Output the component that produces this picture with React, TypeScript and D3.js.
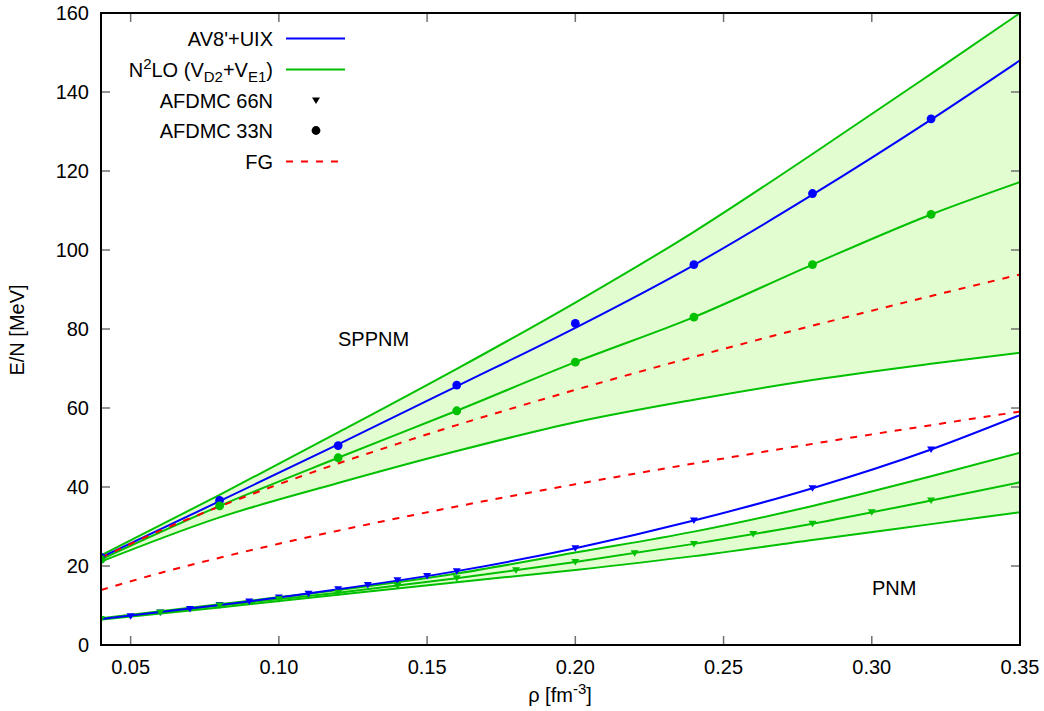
import React from 'react'
import * as d3 from 'd3'

// density grid for the fitted curves [fm^-3]
const curveRho = [0.04, 0.08, 0.12, 0.16, 0.2, 0.24, 0.28, 0.32, 0.35]

// spin-polarized pure neutron matter (SPPNM)
const sppnmAv8 = [22.2, 36.4, 50.8, 65.5, 80.3, 96.2, 114.0, 133.0, 148.0]
const sppnmN2loMid = [21.7, 35.2, 47.4, 59.3, 71.6, 83.0, 96.3, 109.0, 117.2]
const sppnmN2loHigh = [22.7, 38.0, 53.8, 69.9, 86.7, 104.6, 124.3, 144.6, 160.0]
const sppnmN2loLow = [21.1, 32.3, 41.0, 49.1, 56.4, 62.1, 67.1, 71.2, 74.0]

// pure neutron matter (PNM)
const pnmAv8 = [6.6, 10.1, 14.1, 18.7, 24.5, 31.5, 39.7, 49.5, 58.2]
const pnmN2loMid = [6.6, 10.0, 13.2, 16.9, 21.0, 25.6, 30.7, 36.6, 41.2]
const pnmN2loHigh = [6.8, 10.3, 13.9, 18.1, 23.4, 28.7, 35.2, 42.7, 48.7]
const pnmN2loLow = [6.4, 9.5, 12.7, 15.9, 19.0, 22.5, 26.6, 30.6, 33.6]

// free gas
const fgRho = [0.04, 0.06, 0.08, 0.1, 0.12, 0.14, 0.16, 0.18, 0.2, 0.22, 0.24, 0.26, 0.28, 0.3, 0.32, 0.35]
const fgSppnm = [22.1, 28.95, 35.07, 40.69, 45.96, 50.92, 55.67, 60.21, 64.59, 68.83, 72.94, 76.94, 80.83, 84.64, 88.35, 93.8]
const fgPnm = [13.92, 18.24, 22.09, 25.63, 28.95, 32.08, 35.07, 37.93, 40.69, 43.36, 45.95, 48.47, 50.92, 53.32, 55.66, 59.09]

// AFDMC 33N (circles, SPPNM)
const afdmc33Rho = [0.04, 0.08, 0.12, 0.16, 0.2, 0.24, 0.28, 0.32]
const afdmc33Av8 = [22.2, 36.6, 50.5, 65.8, 81.4, 96.3, 114.3, 133.2]
const afdmc33N2lo = [21.7, 35.2, 47.4, 59.3, 71.6, 83.0, 96.3, 109.0]

// AFDMC 66N (triangles, PNM)
const afdmc66Av8Rho = [0.05, 0.06, 0.07, 0.08, 0.09, 0.1, 0.11, 0.12, 0.13, 0.14, 0.15, 0.16, 0.2, 0.24, 0.28, 0.32]
const afdmc66Av8 = [7.3, 8.2, 9.1, 10.1, 11.0, 12.0, 13.0, 14.1, 15.2, 16.4, 17.5, 18.7, 24.5, 31.5, 39.7, 49.5]
const afdmc66N2loRho = [0.04, 0.06, 0.08, 0.1, 0.12, 0.14, 0.16, 0.18, 0.2, 0.22, 0.24, 0.26, 0.28, 0.3, 0.32]
const afdmc66N2lo = [6.6, 8.2, 10.0, 11.6, 13.2, 15.0, 16.9, 18.9, 21.0, 23.2, 25.6, 28.1, 30.7, 33.6, 36.6]

const xTicks = [0.05, 0.1, 0.15, 0.2, 0.25, 0.3, 0.35]
const yTicks = [0, 20, 40, 60, 80, 100, 120, 140, 160]

const BLUE = '#0000ff'
const GREEN = '#00c000'
const RED = '#ff0000'
const BAND = '#e2fdd0'
const FONT = '"Liberation Sans", Arial, sans-serif'

const width = 1044
const height = 711
const margin = { top: 13, right: 24, bottom: 66, left: 101 }

const App = () => {
  const x = d3.scaleLinear().domain([0.04, 0.35]).range([margin.left, width - margin.right])
  const y = d3.scaleLinear().domain([0, 160]).range([height - margin.bottom, margin.top])

  const zip = (xs: number[], ys: number[]) => xs.map((v, i) => [v, ys[i]] as [number, number])

  const line = d3
    .line<[number, number]>()
    .x((d) => x(d[0]))
    .y((d) => y(d[1]))
    .curve(d3.curveMonotoneX)

  const band = (low: number[], high: number[]) =>
    d3
      .area<number>()
      .x((d) => x(d))
      .y0((d, i) => y(low[i]))
      .y1((d, i) => y(high[i]))
      .curve(d3.curveMonotoneX)(curveRho)

  const tri = 'M-4,-3L4,-3L0,3.5Z'
  const x0 = margin.left
  const x1 = width - margin.right
  const y0 = height - margin.bottom
  const y1 = margin.top

  const legendRows = [38.5, 69.5, 100.5, 130.5, 161.5]
  const lx = 273

  return (
    <svg
      width={width}
      height={height}
      style={{ position: 'absolute', left: 0, top: 0, background: '#fff' }}
      fontFamily={FONT}
    >
      <defs>
        <clipPath id="plot">
          <rect x={x0} y={y1} width={x1 - x0} height={y0 - y1} />
        </clipPath>
      </defs>

      <g clipPath="url(#plot)">
        <path d={band(sppnmN2loLow, sppnmN2loHigh) || ''} fill={BAND} />
        <path d={band(pnmN2loLow, pnmN2loHigh) || ''} fill={BAND} />

        {[sppnmN2loHigh, sppnmN2loMid, sppnmN2loLow, pnmN2loHigh, pnmN2loMid, pnmN2loLow].map((s, i) => (
          <path key={'g' + i} d={line(zip(curveRho, s)) || ''} fill="none" stroke={GREEN} strokeWidth={2} />
        ))}
        {[sppnmAv8, pnmAv8].map((s, i) => (
          <path key={'b' + i} d={line(zip(curveRho, s)) || ''} fill="none" stroke={BLUE} strokeWidth={2} />
        ))}
        {[fgSppnm, fgPnm].map((s, i) => (
          <path
            key={'r' + i}
            d={line(zip(fgRho, s)) || ''}
            fill="none"
            stroke={RED}
            strokeWidth={2}
            strokeDasharray="7,8"
          />
        ))}

        {zip(afdmc66Av8Rho, afdmc66Av8).map((d, i) => (
          <path key={'tb' + i} d={tri} transform={`translate(${x(d[0])},${y(d[1])})`} fill={BLUE} />
        ))}
        {zip(afdmc66N2loRho, afdmc66N2lo).map((d, i) => (
          <path key={'tg' + i} d={tri} transform={`translate(${x(d[0])},${y(d[1])})`} fill={GREEN} />
        ))}
        {zip(afdmc33Rho, afdmc33Av8).map((d, i) => (
          <circle key={'cb' + i} cx={x(d[0])} cy={y(d[1])} r={4.4} fill={BLUE} />
        ))}
        {zip(afdmc33Rho, afdmc33N2lo).map((d, i) => (
          <circle key={'cg' + i} cx={x(d[0])} cy={y(d[1])} r={4.4} fill={GREEN} />
        ))}
      </g>

      {/* ticks, mirrored on all sides */}
      <g stroke="#707070" strokeWidth={1.5}>
        {xTicks.map((t) => (
          <g key={'xt' + t}>
            <line x1={x(t)} x2={x(t)} y1={y0} y2={y0 - 9} />
            <line x1={x(t)} x2={x(t)} y1={y1} y2={y1 + 9} />
          </g>
        ))}
        {yTicks.map((t) => (
          <g key={'yt' + t}>
            <line x1={x0} x2={x0 + 9} y1={y(t)} y2={y(t)} />
            <line x1={x1} x2={x1 - 9} y1={y(t)} y2={y(t)} />
          </g>
        ))}
      </g>
      <rect x={x0} y={y1} width={x1 - x0} height={y0 - y1} fill="none" stroke="#000" strokeWidth={2} />

      <g fontSize={20} fill="#000">
        {xTicks.map((t) => (
          <text key={'xl' + t} x={x(t)} y={y0 + 29} textAnchor="middle">
            {d3.format('.2f')(t)}
          </text>
        ))}
        {yTicks.map((t) => (
          <text key={'yl' + t} x={x0 - 12} y={y(t) + 7} textAnchor="end">
            {t}
          </text>
        ))}
        <text x={560} y={702} textAnchor="middle">
          ρ [fm
          <tspan fontSize={15} dy={-8}>
            -3
          </tspan>
          <tspan dy={8}>]</tspan>
        </text>
        <text transform="translate(24,330) rotate(-90)" textAnchor="middle">
          E/N [MeV]
        </text>
        <text x={338} y={346}>SPPNM</text>
        <text x={872} y={595}>PNM</text>

        {/* legend */}
        <text x={lx} y={legendRows[0] + 7} textAnchor="end">
          AV8'+UIX
        </text>
        <line x1={286} x2={345} y1={legendRows[0]} y2={legendRows[0]} stroke={BLUE} strokeWidth={2} />

        <text x={lx} y={legendRows[1] + 7} textAnchor="end">
          N
          <tspan fontSize={15} dy={-8}>
            2
          </tspan>
          <tspan dy={8}>LO (V</tspan>
          <tspan fontSize={15} dy={5}>
            D2
          </tspan>
          <tspan dy={-5}>+V</tspan>
          <tspan fontSize={15} dy={5}>
            E1
          </tspan>
          <tspan dy={-5}>)</tspan>
        </text>
        <line x1={286} x2={345} y1={legendRows[1]} y2={legendRows[1]} stroke={GREEN} strokeWidth={2} />

        <text x={lx} y={legendRows[2] + 7} textAnchor="end">
          AFDMC 66N
        </text>
        <path d={tri} transform={`translate(316,${legendRows[2]})`} fill="#000" />

        <text x={lx} y={legendRows[3] + 7} textAnchor="end">
          AFDMC 33N
        </text>
        <circle cx={316} cy={legendRows[3]} r={4.4} fill="#000" />

        <text x={lx} y={legendRows[4] + 7} textAnchor="end">
          FG
        </text>
        <line
          x1={286}
          x2={345}
          y1={legendRows[4]}
          y2={legendRows[4]}
          stroke={RED}
          strokeWidth={2}
          strokeDasharray="7,8"
        />
      </g>
    </svg>
  )
}

export default App
